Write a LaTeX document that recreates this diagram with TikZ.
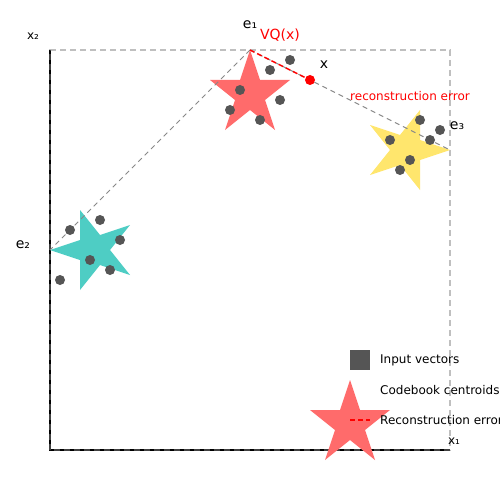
\documentclass[tikz,border=0pt]{standalone}
\usepackage{fontspec}
\setmainfont{DejaVu Sans}
\definecolor{cred}{HTML}{FF6B6B}
\definecolor{cteal}{HTML}{4ECDC4}
\definecolor{cyel}{HTML}{FFE66D}
\definecolor{cdot}{HTML}{555555}
\definecolor{cgrid}{HTML}{888888}
\tikzset{
  dot/.style={circle,fill=cdot,inner sep=0pt,minimum size=10pt},
  guide/.style={draw=cgrid,line width=1pt,dash pattern=on 5pt off 4pt},
  border/.style={draw=gray,draw opacity=0.5,line width=1.5pt,dash pattern=on 6pt off 4pt},
  errline/.style={draw=red,line width=1.5pt,dash pattern=on 5pt off 3pt},
  lbl/.style={inner sep=0pt,font=\fontsize{14}{16}\selectfont},
  small/.style={inner sep=0pt,font=\fontsize{12}{14}\selectfont},
}
\begin{document}
\begin{tikzpicture}[x=1pt,y=-1pt]
\useasboundingbox (0,0) rectangle (500,500);
\clip (0,0) rectangle (500,500);
\fill[white] (0,0) rectangle (500,500);
% axes
\coordinate (o) at (50,450);
\coordinate (ytop) at (50,50);
\coordinate (xend) at (450,450);
\coordinate (tr) at (450,50);
\draw[black,line width=2pt] (ytop) -- (o) -- (xend);
\draw[border] (o) rectangle (tr);
% centroids
\coordinate (e1) at (250,50);
\coordinate (e2) at (50,250);
\coordinate (e3) at (450,150);
\coordinate (xp) at (310,80);
% stars
\fill[cred] (250,50) -- (260,80) -- (290,80) -- (265,100) -- (275,130) -- (250,110) -- (225,130) -- (235,100) -- (210,80) -- (240,80) -- cycle;
\fill[cteal] (50,250) -- (80,240) -- (80,210) -- (100,235) -- (130,225) -- (110,250) -- (130,275) -- (100,265) -- (80,290) -- (80,260) -- cycle;
\fill[cyel] (450,150) -- (420,160) -- (420,190) -- (400,165) -- (370,175) -- (390,150) -- (370,125) -- (400,135) -- (420,110) -- (420,140) -- cycle;
% guide lines
\draw[guide] (e1) -- (e2);
\draw[guide] (e1) -- (e3);
\draw[errline] (e1) -- (xp);
% input vectors
\node[dot] (a1) at (290,60) {};
\node[dot] (a2) at (270,70) {};
\node[dot] (a3) at (240,90) {};
\node[dot] (a4) at (280,100) {};
\node[dot] (a5) at (230,110) {};
\node[dot] (a6) at (260,120) {};
\node[dot] (b1) at (420,120) {};
\node[dot] (b2) at (440,130) {};
\node[dot] (b3) at (390,140) {};
\node[dot] (b4) at (430,140) {};
\node[dot] (b5) at (410,160) {};
\node[dot] (b6) at (400,170) {};
\node[dot] (c1) at (100,220) {};
\node[dot] (c2) at (70,230) {};
\node[dot] (c3) at (120,240) {};
\node[dot] (c4) at (90,260) {};
\node[dot] (c5) at (110,270) {};
\node[dot] (c6) at (60,280) {};
\node[circle,fill=red,inner sep=0pt,minimum size=10pt] (x) at (xp) {};
% labels
\node[small] (lx2) at (33,36) {x₂};
\node[small] (lx1) at (454,441) {x₁};
\node[lbl] (le1) at (250,25) {e₁};
\node[lbl] (le2) at (23,245) {e₂};
\node[lbl] (le3) at (457,126) {e₃};
\node[lbl,text=red] (lvq) at (280,35) {VQ(x)};
\node[lbl] (lxx) at (324,65) {x};
\node[small,text=red] (lre) at (410,96) {reconstruction error};
% legend
\node[fill=cdot,inner sep=0pt,minimum size=20pt] (lg1) at (360,360) {};
\fill[cred] (350,380) -- (360,410) -- (390,410) -- (365,430) -- (375,460) -- (350,440) -- (325,460) -- (335,430) -- (310,410) -- (340,410) -- cycle;
\coordinate (lg3a) at (350,420);
\coordinate (lg3b) at (370,420);
\draw[errline] (lg3a) -- (lg3b);
\node[small,anchor=west] (t1) at (380,360) {Input vectors};
\node[small,anchor=west] (t2) at (380,390) {Codebook centroids};
\node[small,anchor=west] (t3) at (380,420) {Reconstruction error};
\end{tikzpicture}
\end{document}
